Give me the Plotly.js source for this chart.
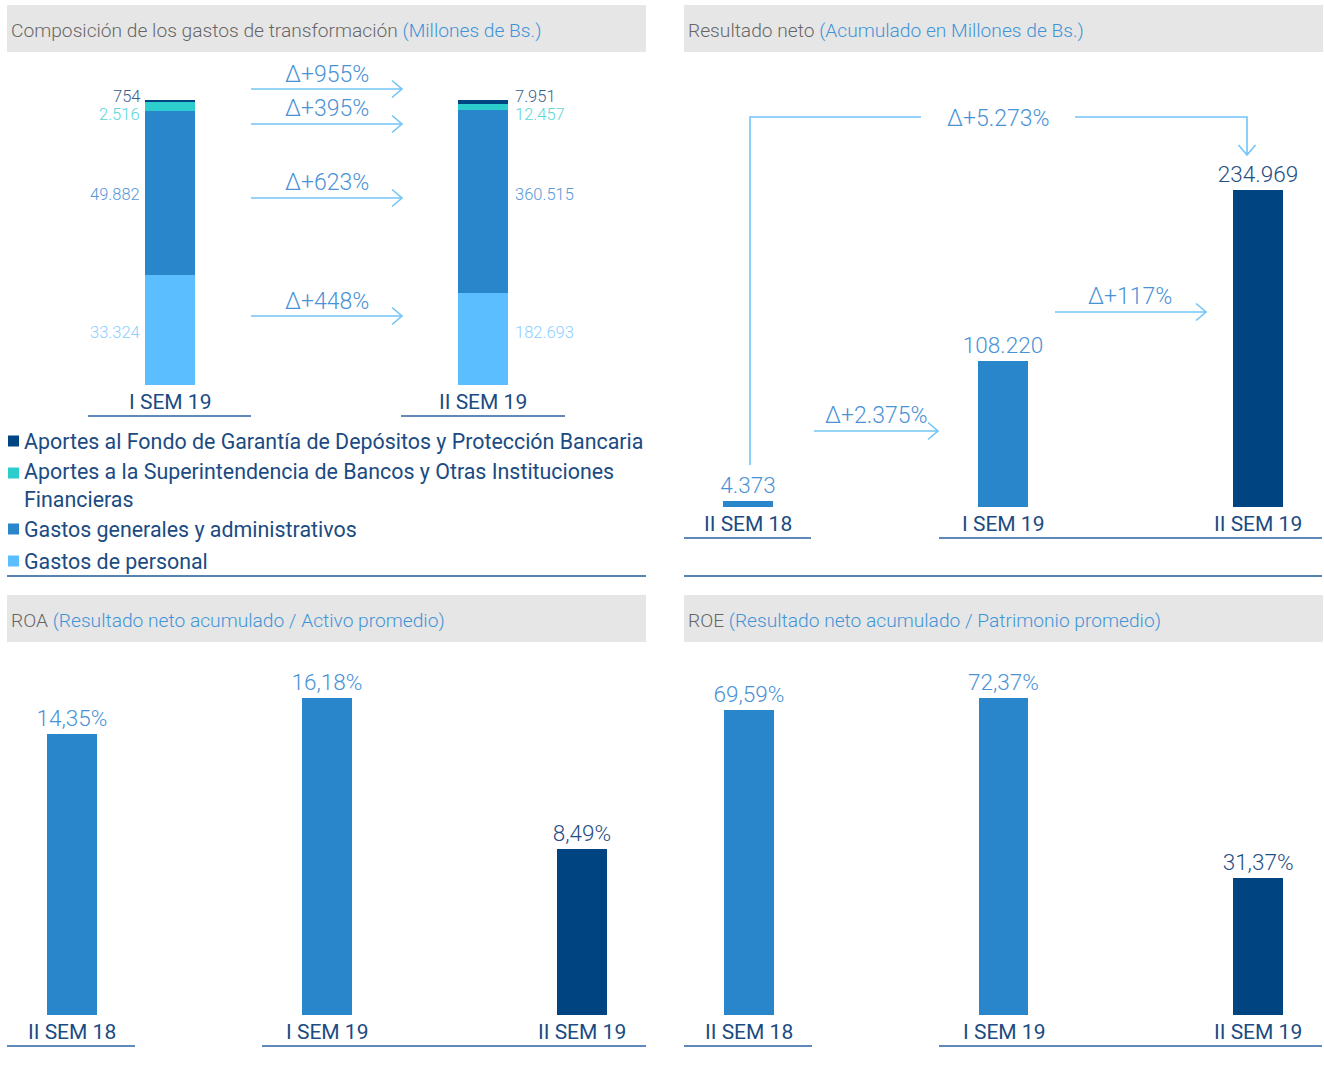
<!DOCTYPE html>
<html>
<head>
<meta charset="utf-8">
<script src="https://cdn.plot.ly/plotly-3.0.1.min.js"></script>
<style>html,body{margin:0;padding:0;background:#fff;}#chart{width:1324px;height:1073px;}</style>
</head>
<body>
<div id="chart"></div>
<script>
// ---------- DATA ----------
const compCats = ['I SEM 19', 'II SEM 19'];
const compNames = [
  'Gastos de personal',
  'Gastos generales y administrativos',
  'Aportes a la Superintendencia de Bancos y Otras Instituciones Financieras',
  'Aportes al Fondo de Garantía de Depósitos y Protección Bancaria'
];
const gastosPersonal = [33324, 182693];
const gastosGenerales = [49882, 360515];
const aportesSudeban = [2516, 12457];
const aportesFogade = [754, 7951];
const compDeltas = ['Δ+448%', 'Δ+623%', 'Δ+395%', 'Δ+955%'];

const semCats = ['II SEM 18', 'I SEM 19', 'II SEM 19'];
const resultadoNeto = [4373, 108220, 234969];
const resDeltas = ['Δ+2.375%', 'Δ+117%', 'Δ+5.273%'];
const roaValues = [14.35, 16.18, 8.49];
const roeValues = [69.59, 72.37, 31.37];

const titles = [
  ['Composición de los gastos de transformación', '(Millones de Bs.)'],
  ['Resultado neto', '(Acumulado en Millones de Bs.)'],
  ['ROA', '(Resultado neto acumulado / Activo promedio)'],
  ['ROE', '(Resultado neto acumulado / Patrimonio promedio)']
];

// ---------- STYLE ----------
const W = 1324, H = 1073;
const X = p => p / W;
const Y = p => 1 - p / H;
const NAVY = '#004481', MID = '#2a86ca', LIGHT = '#5bbeff', TEAL = '#2dcccd';
const DARK_TXT = '#1b4b82', GRAY_TXT = '#666666', PAREN = '#3f94d8';
const ARROW = '#72c4f7', DELTA_TXT = '#4a92d6', HEADER = '#e6e6e6';
const FONT = 'Roboto, "Open Sans", sans-serif';

const fmtThousands = n => String(n).replace(/\B(?=(\d{3})+(?!\d))/g, '.');

// ---------- TRACES ----------
const compSeries = [gastosPersonal, gastosGenerales, aportesSudeban, aportesFogade];
const compColors = [LIGHT, MID, TEAL, NAVY];
const totals = compCats.map((_, i) => compSeries.reduce((s, a) => s + a[i], 0));
const compPct = compSeries.map(a => a.map((v, i) => v / totals[i] * 100));

const traces = [];
compSeries.forEach((arr, k) => {
  traces.push({
    type: 'bar', x: compCats, y: compPct[k], name: compNames[k],
    marker: {color: compColors[k]}, width: 0.16,
    xaxis: 'x', yaxis: 'y', hoverinfo: 'skip', showlegend: false
  });
});

const barCols3 = [MID, MID, NAVY];
const txtCols3 = ['#4a92d6', '#4a92d6', '#1f4e85'];
function simpleBars(vals, xa, ya, tmpl) {
  return {
    type: 'bar', x: semCats, y: vals, xaxis: xa, yaxis: ya, width: 0.196,
    marker: {color: barCols3},
    texttemplate: tmpl, textposition: 'outside', constraintext: 'none', cliponaxis: false,
    textfont: {family: FONT, size: 22.5, color: txtCols3, weight: 300},
    hoverinfo: 'skip', showlegend: false
  };
}
traces.push(simpleBars(resultadoNeto, 'x2', 'y2', '%{y:,.0f}'));
traces.push(simpleBars(roaValues, 'x3', 'y3', '%{y:.2f}%'));
traces.push(simpleBars(roeValues, 'x4', 'y4', '%{y:.2f}%'));

// ---------- LAYOUT ----------
const shapes = [];
const annotations = [];
const line = (x0, y0, x1, y1, color, w) => shapes.push({type: 'line', xref: 'paper', yref: 'paper',
  x0: X(x0), y0: Y(y0), x1: X(x1), y1: Y(y1), line: {color: color, width: w}});
const path = (d, color, w) => shapes.push({type: 'path', xref: 'paper', yref: 'paper', path: d,
  line: {color: color, width: w}});
const P = (x, y) => X(x) + ',' + Y(y);
function arrowRight(x0, x1, y) {
  line(x0, y, x1, y, ARROW, 1.6);
  path('M' + P(x1 - 10, y - 8.5) + ' L' + P(x1, y) + ' L' + P(x1 - 10, y + 8.5), ARROW, 1.6);
}
function text(x, y, t, opts) {
  annotations.push(Object.assign({xref: 'paper', yref: 'paper', x: X(x), y: Y(y), text: t,
    showarrow: false, xanchor: 'center', yanchor: 'middle',
    font: {family: FONT, size: 20, color: DARK_TXT}}, opts || {}));
}
const deltaFont = {family: FONT, size: 23, color: DELTA_TXT, weight: 300};

// headers
const headerBoxes = [[7, 646, 5, 52], [684, 1323, 5, 52], [7, 646, 595, 642], [684, 1323, 595, 642]];
headerBoxes.forEach((b, i) => {
  shapes.push({type: 'rect', xref: 'paper', yref: 'paper', layer: 'below',
    x0: X(b[0]), x1: X(b[1]), y0: Y(b[3]), y1: Y(b[2]), fillcolor: HEADER, line: {width: 0}});
  text(b[0] + 2, (b[2] + b[3]) / 2 + 2, titles[i][0] + ' <span style="color:' + PAREN + '">' + titles[i][1] + '</span>',
    {xanchor: 'left', font: {family: FONT, size: 19.2, color: GRAY_TXT, weight: 300}});
});

// separators
line(7, 576, 646, 576, '#1f5a96', 1.3);
line(684, 576, 1322, 576, '#1f5a96', 1.3);

// category underlines
const UL = '#2a62a0';
line(88, 416, 251, 416, UL, 1.3); line(401, 416, 565, 416, UL, 1.3);
line(684, 538, 811, 538, UL, 1.3); line(939, 538, 1322, 538, UL, 1.3);
line(7, 1046, 135, 1046, UL, 1.3); line(262, 1046, 646, 1046, UL, 1.3);
line(684, 1046, 812, 1046, UL, 1.3); line(939, 1046, 1322, 1046, UL, 1.3);

// category labels
compCats.forEach(c => annotations.push({xref: 'x', yref: 'paper', x: c, y: Y(402), text: c, showarrow: false,
  yanchor: 'middle', font: {family: FONT, size: 21, color: DARK_TXT}}));
['x2', 'x3', 'x4'].forEach((xa, k) => {
  const yy = k === 0 ? 524 : 1032;
  semCats.forEach(c => annotations.push({xref: xa, yref: 'paper', x: c, y: Y(yy), text: c, showarrow: false,
    yanchor: 'middle', font: {family: FONT, size: 21, color: DARK_TXT}}));
});

// composition value labels (positioned at first bar segment midpoints)
const labelCols = ['#8ccfff', '#5597d4', '#5dd5d6', '#3c5f8a'];
const yShift = [-2, -2, -8, 5];
let cum = 0;
compPct.forEach((pct, k) => {
  const mid = cum + pct[0] / 2; cum += pct[0];
  [[0, 141, 'right'], [1, 514, 'left']].forEach(([i, xp, anc]) => {
    annotations.push({xref: 'paper', yref: 'y', x: X(xp), y: mid, yshift: yShift[k], text: fmtThousands(compSeries[k][i]),
      showarrow: false, xanchor: anc, yanchor: 'middle', borderpad: 0,
      font: {family: FONT, size: 16.5, color: labelCols[k], weight: 300}});
  });
});

// composition delta arrows
const compArrowY = [316, 198, 124, 89];
compDeltas.forEach((d, k) => {
  arrowRight(251, 402, compArrowY[k]);
  text(327, compArrowY[k] - 15, d, {font: deltaFont});
});

// resultado arrows
arrowRight(814, 938, 431);
text(876, 415, resDeltas[0], {font: deltaFont});
arrowRight(1055, 1206, 312);
text(1130, 296, resDeltas[1], {font: deltaFont});
path('M' + P(750, 465) + ' L' + P(750, 117) + ' L' + P(921, 117), ARROW, 1.6);
path('M' + P(1075, 117) + ' L' + P(1247, 117) + ' L' + P(1247, 155), ARROW, 1.6);
path('M' + P(1238.5, 145) + ' L' + P(1247, 155) + ' L' + P(1255.5, 145), ARROW, 1.6);
text(998, 118, resDeltas[2], {font: deltaFont});

// legend (manual)
const legendOrder = [3, 2, 1, 0];
const legendY = [441, 485, 529, 561];
const legendSq = [441, 473, 529, 561];
legendOrder.forEach((k, j) => {
  shapes.push({type: 'rect', xref: 'paper', yref: 'paper', x0: X(8), x1: X(19),
    y0: Y(legendSq[j] + 5.5), y1: Y(legendSq[j] - 5.5), fillcolor: compColors[k], line: {width: 0}});
  text(22, legendY[j], compNames[k].replace('Instituciones ', 'Instituciones<br>'),
    {xanchor: 'left', align: 'left', font: {family: FONT, size: 21.4, color: DARK_TXT}});
});

const axBase = {showgrid: false, zeroline: false, showticklabels: false, ticks: '', showline: false, fixedrange: true};
const layout = {
  width: W, height: H, margin: {l: 0, r: 0, t: 0, b: 0},
  paper_bgcolor: '#ffffff', plot_bgcolor: 'rgba(0,0,0,0)',
  barmode: 'stack', separators: ',.', showlegend: false,
  font: {family: FONT},
  xaxis: Object.assign({}, axBase, {type: 'category', domain: [X(7), X(646)], range: [-0.521, 1.521], anchor: 'y'}),
  yaxis: Object.assign({}, axBase, {domain: [Y(385), Y(100)], range: [0, 100], anchor: 'x'}),
  xaxis2: Object.assign({}, axBase, {type: 'category', domain: [X(684), X(1322)], range: [-0.251, 2.251], anchor: 'y2'}),
  yaxis2: Object.assign({}, axBase, {domain: [Y(507), Y(169.7)], range: [0, 250000], anchor: 'x2'}),
  xaxis3: Object.assign({}, axBase, {type: 'category', domain: [X(7), X(646)], range: [-0.255, 2.251], anchor: 'y3'}),
  yaxis3: Object.assign({}, axBase, {domain: [Y(1015), Y(662.3)], range: [0, 18], anchor: 'x3'}),
  xaxis4: Object.assign({}, axBase, {type: 'category', domain: [X(684), X(1322)], range: [-0.255, 2.251], anchor: 'y4'}),
  yaxis4: Object.assign({}, axBase, {domain: [Y(1015), Y(664.6)], range: [0, 80], anchor: 'x4'}),
  shapes: shapes, annotations: annotations
};

Plotly.newPlot('chart', traces, layout, {displayModeBar: false, staticPlot: true});
</script>
</body>
</html>
